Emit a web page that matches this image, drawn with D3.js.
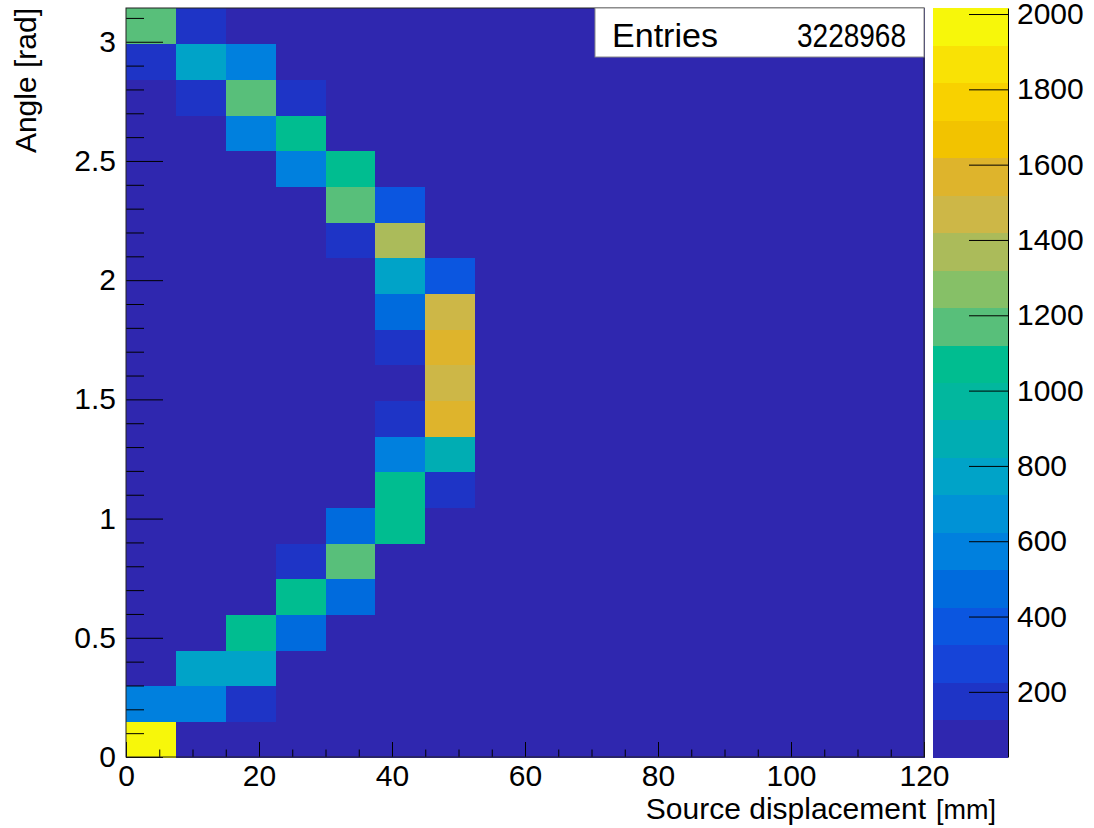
<!DOCTYPE html>
<html>
<head>
<meta charset="utf-8">
<script src="https://cdn.jsdelivr.net/npm/d3@7"></script>
<style>
  body { margin: 0; background: #fff; }
  text { font-family: "Liberation Sans", Arial, Helvetica, sans-serif; fill: #000; }
</style>
</head>
<body>
<svg id="chart" width="1094" height="828"></svg>
<script>
// ---------------- data ----------------
const xTitle = "Source displacement";
const xUnit = "[mm]";
const yTitle = "Angle [rad]";
const statsLabel = "Entries";
const statsValue = "3228968";

const xRange = [0, 120];          // mm
const yRange = [0, Math.PI];      // rad
const nBinsX = 16;
const nBinsY = 21;

const xMajorTicks = [0, 20, 40, 60, 80, 100, 120];
const yMajorTicks = [0, 0.5, 1, 1.5, 2, 2.5, 3];
const yTickLabels = ["0", "0.5", "1", "1.5", "2", "2.5", "3"];
const zTicks = [200, 400, 600, 800, 1000, 1200, 1400, 1600, 1800, 2000];

// bin contents, one row per angle bin (bottom row first), 16 displacement bins per row
const B = 27;
const counts = [
  [2016, B,    B,    B,    B,    B,    B,    B, B, B, B, B, B, B, B, B],
  [540,  540,  200,  B,    B,    B,    B,    B, B, B, B, B, B, B, B, B],
  [B,    800,  810,  B,    B,    B,    B,    B, B, B, B, B, B, B, B, B],
  [B,    B,    1060, 460,  B,    B,    B,    B, B, B, B, B, B, B, B, B],
  [B,    B,    B,    1080, 440,  B,    B,    B, B, B, B, B, B, B, B, B],
  [B,    B,    B,    200,  1170, B,    B,    B, B, B, B, B, B, B, B, B],
  [B,    B,    B,    B,    450,  1050, B,    B, B, B, B, B, B, B, B, B],
  [B,    B,    B,    B,    B,    1060, 210,  B, B, B, B, B, B, B, B, B],
  [B,    B,    B,    B,    B,    590,  880,  B, B, B, B, B, B, B, B, B],
  [B,    B,    B,    B,    B,    210,  1590, B, B, B, B, B, B, B, B, B],
  [B,    B,    B,    B,    B,    B,    1480, B, B, B, B, B, B, B, B, B],
  [B,    B,    B,    B,    B,    210,  1590, B, B, B, B, B, B, B, B, B],
  [B,    B,    B,    B,    B,    520,  1480, B, B, B, B, B, B, B, B, B],
  [B,    B,    B,    B,    B,    800,  360,  B, B, B, B, B, B, B, B, B],
  [B,    B,    B,    B,    220,  1380, B,    B, B, B, B, B, B, B, B, B],
  [B,    B,    B,    B,    1170, 370,  B,    B, B, B, B, B, B, B, B, B],
  [B,    B,    B,    560,  1070, B,    B,    B, B, B, B, B, B, B, B, B],
  [B,    B,    560,  1070, B,    B,    B,    B, B, B, B, B, B, B, B, B],
  [B,    210,  1170, 210,  B,    B,    B,    B, B, B, B, B, B, B, B, B],
  [220,  790,  560,  B,    B,    B,    B,    B, B, B, B, B, B, B, B, B],
  [1170, 220,  B,    B,    B,    B,    B,    B, B, B, B, B, B, B, B, B]
];

// 20-level palette (low -> high)
const palette = [
  "#2f27af", "#1e34c6", "#1644d8", "#0b56e0", "#006bdd",
  "#0080de", "#0092d6", "#00a3c8", "#00adb3", "#02b79e",
  "#00bd90", "#58bf7a", "#86c067", "#abbb5a", "#cdb747",
  "#deb42c", "#f2c300", "#f8d100", "#f9e205", "#f7f70a"
];

// ---------------- layout ----------------
const svg = d3.select("#chart");
const frame = { left: 126, right: 924, top: 8, bottom: 757 };
const cbar = { left: 933, right: 1008 };
const FS = 30;

const x = d3.scaleLinear().domain(xRange).range([frame.left, frame.right]);
const y = d3.scaleLinear().domain(yRange).range([frame.bottom, frame.top]);

const flat = counts.flat();
const zMin = d3.min(flat), zMax = d3.max(flat);
const color = d3.scaleQuantize().domain([zMin, zMax]).range(palette);
const z = d3.scaleLinear().domain([zMin, zMax]).range([frame.bottom, frame.top]);

const xEdges = d3.range(nBinsX + 1).map(i => xRange[0] + (xRange[1] - xRange[0]) * i / nBinsX);
const yEdges = d3.range(nBinsY + 1).map(j => yRange[0] + (yRange[1] - yRange[0]) * j / nBinsY);

// ---------------- cells ----------------
const cells = [];
counts.forEach((row, j) => row.forEach((v, i) => cells.push({ i, j, v })));

svg.append("g").selectAll("rect").data(cells).join("rect")
  .attr("x", d => x(xEdges[d.i]))
  .attr("y", d => y(yEdges[d.j + 1]))
  .attr("width", d => x(xEdges[d.i + 1]) - x(xEdges[d.i]) + 0.5)
  .attr("height", d => y(yEdges[d.j]) - y(yEdges[d.j + 1]) + 0.5)
  .attr("fill", d => color(d.v))
  .attr("shape-rendering", "crispEdges");

// ---------------- axes ----------------
const xMinor = d3.range(0, 120.01, 5).filter(v => v % 20 !== 0);
const yMinor = d3.range(0, 32).map(k => k / 10).filter(v => Math.abs(v * 2 - Math.round(v * 2)) > 1e-6);

const gx = svg.append("g").attr("transform", `translate(0,${frame.bottom})`)
  .call(d3.axisBottom(x).tickValues(xMajorTicks).tickFormat(d3.format("d"))
    .tickSizeInner(-15).tickSizeOuter(0).tickPadding(8));
gx.select(".domain").remove();
gx.selectAll("text").style("font-size", FS + "px").attr("fill", "#000");
gx.selectAll("line").attr("stroke", "#000");

const gxm = svg.append("g").attr("transform", `translate(0,${frame.bottom})`)
  .call(d3.axisBottom(x).tickValues(xMinor).tickFormat("").tickSizeInner(-7.5).tickSizeOuter(0));
gxm.select(".domain").remove();
gxm.selectAll("line").attr("stroke", "#000");

const gy = svg.append("g").attr("transform", `translate(${frame.left},0)`)
  .call(d3.axisLeft(y).tickValues(yMajorTicks).tickFormat((d, k) => yTickLabels[k])
    .tickSizeInner(-37).tickSizeOuter(0).tickPadding(10));
gy.select(".domain").remove();
gy.selectAll("text").style("font-size", FS + "px").attr("fill", "#000");
gy.selectAll("line").attr("stroke", "#000");

const gym = svg.append("g").attr("transform", `translate(${frame.left},0)`)
  .call(d3.axisLeft(y).tickValues(yMinor).tickFormat("").tickSizeInner(-18).tickSizeOuter(0));
gym.select(".domain").remove();
gym.selectAll("line").attr("stroke", "#000");

// frame
svg.append("rect")
  .attr("x", frame.left).attr("y", frame.top)
  .attr("width", frame.right - frame.left).attr("height", frame.bottom - frame.top)
  .attr("fill", "none").attr("stroke", "#222").attr("stroke-width", 1);

// axis titles
const xt = svg.append("text")
  .attr("x", 996).attr("y", 819)
  .attr("text-anchor", "end")
  .style("font-size", FS + "px");
xt.append("tspan").text(xTitle);
xt.append("tspan").attr("dx", 10).style("font-size", "27px").text(xUnit);

svg.append("text")
  .attr("transform", `translate(36,${frame.top}) rotate(-90)`)
  .attr("text-anchor", "end")
  .style("font-size", FS + "px")
  .text(yTitle);

// ---------------- colour bar ----------------
const bands = palette.map(c => {
  const [lo, hi] = color.invertExtent(c);
  return { c, lo, hi };
});
svg.append("g").selectAll("rect").data(bands).join("rect")
  .attr("x", cbar.left)
  .attr("y", d => z(d.hi))
  .attr("width", cbar.right - cbar.left)
  .attr("height", d => z(d.lo) - z(d.hi) + 0.5)
  .attr("fill", d => d.c)
  .attr("shape-rendering", "crispEdges");

const gz = svg.append("g").attr("transform", `translate(${cbar.right},0)`)
  .call(d3.axisRight(z).tickValues(zTicks).tickFormat(d3.format("d"))
    .tickSizeInner(-39).tickSizeOuter(0).tickPadding(9));
gz.select(".domain").attr("stroke", "#000");
gz.selectAll("text").style("font-size", FS + "px").attr("fill", "#000");
gz.selectAll("line").attr("stroke", "#000");

// ---------------- stats box ----------------
const sb = { x0: 595, x1: 924, y0: 8, y1: 57 };
svg.append("rect")
  .attr("x", sb.x0).attr("y", sb.y0)
  .attr("width", sb.x1 - sb.x0).attr("height", sb.y1 - sb.y0)
  .attr("fill", "#fff").attr("stroke", "#888").attr("stroke-width", 1);
svg.append("text").attr("x", 612).attr("y", 47)
  .style("font-size", "34px")
  .attr("textLength", 106).attr("lengthAdjust", "spacingAndGlyphs")
  .text(statsLabel);
svg.append("text").attr("x", 797).attr("y", 47)
  .style("font-size", "34px")
  .attr("textLength", 109).attr("lengthAdjust", "spacingAndGlyphs")
  .text(statsValue);
</script>
</body>
</html>
